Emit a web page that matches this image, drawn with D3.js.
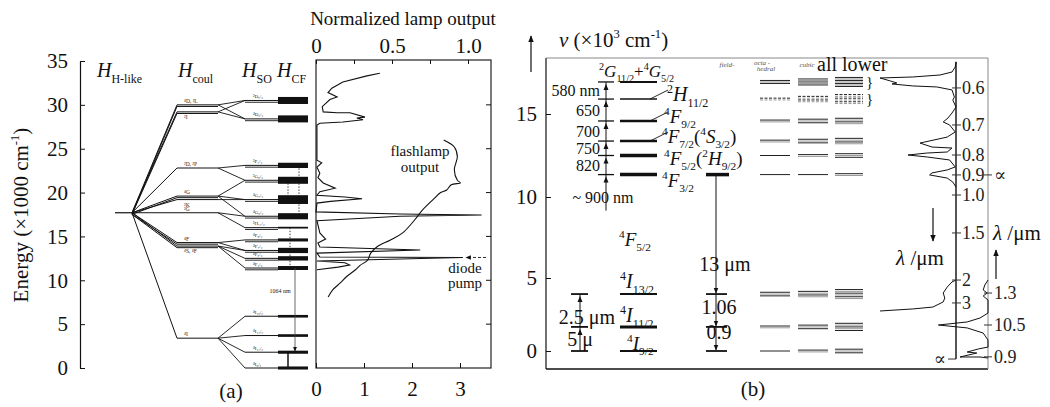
<!DOCTYPE html>
<html>
<head>
<meta charset="utf-8">
<script src="https://cdn.jsdelivr.net/npm/d3@7"></script>
<style>
body { margin: 0; background: #fff; }
svg, svg text { font-family: "Liberation Serif", "Times New Roman", "DejaVu Serif", serif; }
</style>
</head>
<body>
<div id="chart"></div>
<script>
// -------------------- DATA --------------------
// panel (a): energy levels in 1000 cm^-1
const energyTicksA = [0, 5, 10, 15, 20, 25, 30, 35];
const hLikeE = 17.7;
const coulE = [30.0, 29.2, 22.8, 19.6, 19.2, 17.7, 14.3, 13.9, 3.4];
const coulLabels = ["⁴D, ²L", "²I", "²D, ²P", "⁴G", "²K", "²G", "⁴F", "⁴S, ⁴F", "⁴I"];
const soE = [30.5, 28.4, 23.1, 21.4, 19.2, 17.3, 16.0, 14.6, 13.4, 12.5, 11.4, 5.9, 3.7, 1.8, 0];
const soParents = [[0,1],[0,1],[2],[2,3],[3,4],[3,5],[5],[6],[6,7],[7],[7],[8],[8],[8],[8]];
const soLabels = ["²D₅/₂","⁴D₃/₂","²P₁/₂","²G₉/₂","⁴G₇/₂","⁴G₅/₂","²H₁₁/₂","⁴F₉/₂","⁴F₇/₂","⁴F₅/₂","⁴F₃/₂","⁴I₁₅/₂","⁴I₁₃/₂","⁴I₁₁/₂","⁴I₉/₂"];
const cfSpread = [0.8, 0.8, 0.6, 0.8, 1.0, 0.7, 0.2, 0.35, 0.6, 0.5, 0.45, 0.3, 0.3, 0.35, 0.35];
const laserA = { from: 11.4, to: 1.8, label: "1064 nm" };

// lamp panel: absorption (bottom axis) and flashlamp output (top axis)
const absE = [33.6,33.3,32.6,31.9,31.4,30.9,30.6,29.8,29.2,29.1,29.1,28.6,28.5,28.3,28.05,27.9,27.7,23.7,23.4,22.9,22.2,21.7,21.1,20.5,20.1,19.7,19.5,19.3,19.0,18.8,17.8,17.55,17.45,17.3,16.8,15.4,14.7,14.25,13.8,13.45,13.1,12.65,12.6,12.2,12.0,11.75,11.5,11.2];
const absV = [1.33,1.06,0.56,0.33,0.25,0.44,0.29,0.13,0.15,0.44,0.71,1.02,0.85,0.98,0.56,0.08,0.02,0.02,0.12,0.02,0.08,0.04,0.15,0.4,0.08,0.02,0.6,0.96,0.3,0.02,0,1.75,3.45,1.75,0.02,0.08,0.2,0.04,0.08,2.17,0.02,0.08,3.06,0.02,0.6,0.7,0.46,0.02];
const lampE = [26.0,25.2,24.1,22.6,21.4,21.1,20.9,20.3,20.0,19.2,18.0,16.9,15.4,14.6,13.8,13.1,12.3,11.7,11.2,10.4,9.7,8.9,8.1];
const lampV = [0.84,0.91,0.93,0.91,0.93,0.95,0.89,0.86,0.82,0.77,0.70,0.65,0.57,0.49,0.40,0.36,0.34,0.29,0.26,0.20,0.16,0.11,0.08];
const topTicks = [0, 0.25, 0.5, 0.75, 1];
const bottomTicks = [0, 1, 2, 3];
const diodeE = 12.6;

// panel (b)
const bTicks = [0, 5, 10, 15];
const bLevelE = [16.93, 15.9, 14.58, 13.37, 12.5, 11.35, 3.9, 1.65, 0];
const pumpLabels = ["580 nm", "650", "700", "750", "820"];
const starkOcta  = [3, 2, 2, 2, 1, 1, 3, 2, 1];
const starkCubic = [5, 4, 3, 3, 2, 1, 4, 3, 2];
const starkLower = [7, 6, 4, 4, 3, 2, 6, 5, 3];
const spec1E = [18.13,17.83,17.53,17.35,17.23,17.17,16.99,16.87,16.81,16.69,16.63,16.45,16.02,15.84,15.42,15.06,14.76,14.52,14.34,13.92,13.61,13.25,13.01,12.95,12.71,12.65,12.53,12.41,12.23,11.81,11.63,11.45,11.33,11.14,10.9,10.6];
const spec1V = [0,0.01,0.05,0.2,0.54,0.95,0.82,0.74,0.8,0.54,0.24,0.05,0.02,0.04,0,0.05,0.1,0.16,0.08,0.01,0.11,0.45,0.3,0.05,0.11,0.36,0.6,0.36,0.08,0.01,0.11,0.3,0.33,0.11,0.04,0];
const spec1bE = [4.86,4.73,4.38,3.97,3.63,3.36,3.01,2.88,2.74];
const spec1bV = [0,0.05,0.11,0.16,0.14,0.16,0.29,0.54,0.95];
const spec2E = [4.86,4.52,4.18,3.97,3.77,3.49,2.6,2.26,1.99,1.78,1.58,1.23,0.75,0.27,0.14,-0.07,-0.14,-0.41,-0.41,-0.48];
const spec2V = [0,0.04,0.06,0.01,0.06,0,0,0.1,0.26,0.62,0.26,0.06,0,0,0.12,0.26,0.14,0.35,0.1,0];
const lamLabels = ["0.6","0.7","0.8","0.9","1.0","1.5","2","3","∝"];
const lamE = [16.57,14.34,12.53,11.33,10.12,7.78,4.86,3.29,-0.55];
const lam2Labels = ["∝","1.3","10.5","0.9"];
const lam2E = [11.33,3.97,1.78,-0.4];

// -------------------- SETUP --------------------
const W = 1050, H = 407;
const FONT = "'Liberation Serif', 'Times New Roman', 'DejaVu Serif', serif";
const svg = d3.select("#chart").append("svg").attr("width", W).attr("height", H)
  .attr("font-family", FONT);

const defs = svg.append("defs");
defs.append("marker").attr("id", "arr")
  .attr("viewBox", "0 0 10 10").attr("refX", 9).attr("refY", 5)
  .attr("markerWidth", 6).attr("markerHeight", 6).attr("orient", "auto")
  .append("path").attr("d", "M0,1L10,5L0,9z").attr("fill", "#111");

// text with sub/superscripts, parts = [[text, mode]]
function rich(g, x, y, parts, size, anchor) {
  const t = g.append("text").attr("x", x).attr("y", y)
    .attr("font-size", size).attr("text-anchor", anchor || "start").attr("fill", "#111");
  let cur = 0;
  parts.forEach(([s, m]) => {
    const off = m === "sup" ? -0.42 * size : m === "sub" ? 0.28 * size : 0;
    const ts = t.append("tspan").attr("dy", off - cur).text(s);
    if (m === "sup" || m === "sub") ts.attr("font-size", size * 0.6);
    if (m === "i") ts.attr("font-style", "italic");
    cur = off;
  });
  return t;
}

function line(g, x1, y1, x2, y2, w, col) {
  return g.append("line").attr("x1", x1).attr("y1", y1).attr("x2", x2).attr("y2", y2)
    .attr("stroke", col || "#111").attr("stroke-width", w || 1);
}

function styleAxis(g, size) {
  g.attr("font-family", FONT).attr("font-size", size);
  g.selectAll("text").attr("fill", "#111");
  g.selectAll("line").attr("stroke", "#111");
}

// -------------------- PANEL (a) --------------------
const yA = d3.scaleLinear().domain([0, 35]).range([368, 61]);
const sx = d3.scaleLinear().domain([0, 1, 2, 3, 4, 5, 6]).range([115, 132, 177, 218, 245, 278, 308]);
const gA = svg.append("g");

gA.append("g").attr("transform", "translate(80,0)")
  .call(d3.axisLeft(yA).tickValues(energyTicksA).tickSizeInner(-5).tickSizeOuter(0).tickPadding(12))
  .call(g => styleAxis(g, 21))
  .call(g => g.select(".domain").attr("stroke", "#111").attr("stroke-width", 1.2));

rich(gA, 0, 0, [["Energy (×1000 cm"], ["-1", "sup"], [")"]], 21, "middle")
  .attr("x", null).attr("y", null)
  .attr("transform", "translate(28,215) rotate(-90)");

rich(gA, 97, 77, [["H", "i"], ["H-like", "sub"]], 20);
rich(gA, 178, 77, [["H", "i"], ["coul", "sub"]], 20);
rich(gA, 242, 77, [["H", "i"], ["SO", "sub"]], 20);
rich(gA, 277, 77, [["H", "i"], ["CF", "sub"]], 20);

const coulDouble = [true, true, false, true, false, false, true, true, false];
const coulBelow = [false, true, false, false, true, false, false, true, false];

// H-like level
line(gA, sx(0), yA(hLikeE), sx(1), yA(hLikeE), 1.2);

// fan to Coulomb levels
coulE.forEach((e, i) => {
  line(gA, sx(1), yA(hLikeE), sx(2), yA(e), 1);
  line(gA, sx(2), yA(e), sx(3), yA(e), 1);
  if (coulDouble[i]) {
    line(gA, sx(1), yA(hLikeE) + 1.6, sx(2), yA(e) + 1.6, 1);
    line(gA, sx(2), yA(e) + 1.6, sx(3), yA(e) + 1.6, 1);
  }
  gA.append("text").attr("x", sx(2) + 7)
    .attr("y", yA(e) + (coulBelow[i] ? 7 : -2))
    .attr("font-size", 5.5).attr("fill", "#222").text(coulLabels[i]);
});

// spin-orbit levels
soE.forEach((e, j) => {
  soParents[j].forEach(p => {
    line(gA, sx(3), yA(coulE[p]), sx(4), yA(e), 0.9);
  });
  line(gA, sx(4), yA(e), sx(5), yA(e), 1);
  if (j < 11) line(gA, sx(4), yA(e) + 1.8, sx(5), yA(e) + 1.8, 0.9);
  gA.append("text").attr("x", sx(4) + 8).attr("y", yA(e) - 2.5)
    .attr("font-size", 5).attr("fill", "#222").text(soLabels[j]);
});

// crystal-field manifolds
gA.selectAll("rect.cf").data(soE).join("rect")
  .attr("class", "cf")
  .attr("x", sx(5))
  .attr("y", (e, j) => yA(e + cfSpread[j] / 2))
  .attr("width", sx(6) - sx(5))
  .attr("height", (e, j) => yA(e - cfSpread[j] / 2) - yA(e + cfSpread[j] / 2))
  .attr("fill", "#111");

// dotted links inside CF column
line(gA, sx(5) + 21, yA(23.1), sx(5) + 21, yA(17.3), 0.8).attr("stroke-dasharray", "1.5,1.5");
line(gA, sx(5) + 10, yA(21.4), sx(5) + 10, yA(19.2), 0.8).attr("stroke-dasharray", "1.5,1.5");
line(gA, sx(5) + 12, yA(16.0), sx(5) + 12, yA(11.4), 0.8).attr("stroke-dasharray", "1.5,1.5");

// laser transition
line(gA, sx(5) + 17, yA(laserA.from), sx(5) + 17, yA(laserA.to) - 1, 0.8, "#444")
  .attr("marker-end", "url(#arr)");
line(gA, sx(5) + 10, yA(laserA.to), sx(5) + 10, yA(0), 1.5);
gA.append("text").attr("x", sx(5) + 2).attr("y", yA(8.5)).attr("font-size", 6)
  .attr("text-anchor", "middle").attr("fill", "#222").text(laserA.label);

gA.append("text").attr("x", 231).attr("y", 398).attr("font-size", 21)
  .attr("text-anchor", "middle").attr("fill", "#111").text("(a)");

// -------------------- LAMP PANEL --------------------
const xTop = d3.scaleLinear().domain([0, 1]).range([316, 468]);
const xBot = d3.scaleLinear().domain([0, 3]).range([316, 460]);
const gL = svg.append("g");

gL.append("rect").attr("x", 316).attr("y", 60).attr("width", 175).attr("height", 308)
  .attr("fill", "none").attr("stroke", "#222").attr("stroke-width", 1.2);

const topFmt = { 0: "0", 0.5: "0.5", 1: "1.0" };
gL.append("g").attr("transform", "translate(0,60)")
  .call(d3.axisTop(xTop).tickValues(topTicks).tickSizeInner(-4).tickSizeOuter(0).tickPadding(7)
    .tickFormat(d => topFmt[d] || ""))
  .call(g => g.select(".domain").remove())
  .call(g => styleAxis(g, 21));

gL.append("g").attr("transform", "translate(0,368)")
  .call(d3.axisBottom(xBot).tickValues(bottomTicks).tickSizeInner(-5).tickSizeOuter(0).tickPadding(13)
    .tickFormat(d3.format("d")))
  .call(g => g.select(".domain").remove())
  .call(g => styleAxis(g, 21));

energyTicksA.filter(e => e > 0 && e < 35).forEach(e => line(gL, 491, yA(e), 486, yA(e), 1));

gL.append("text").attr("x", 403).attr("y", 25).attr("font-size", 19)
  .attr("text-anchor", "middle").attr("fill", "#111").text("Normalized lamp output");

const absLine = d3.line().x(d => xBot(d[1])).y(d => yA(d[0]));
gL.append("path").datum(d3.zip(absE, absV))
  .attr("d", absLine).attr("fill", "none").attr("stroke", "#111").attr("stroke-width", 1.1);

const lampLine = d3.line().x(d => xTop(d[1])).y(d => yA(d[0])).curve(d3.curveCatmullRom);
gL.append("path").datum(d3.zip(lampE, lampV))
  .attr("d", lampLine).attr("fill", "none").attr("stroke", "#111").attr("stroke-width", 1.1);

gL.append("text").attr("x", 420).attr("y", 156).attr("font-size", 15)
  .attr("text-anchor", "middle").attr("fill", "#111").text("flashlamp");
gL.append("text").attr("x", 420).attr("y", 172).attr("font-size", 15)
  .attr("text-anchor", "middle").attr("fill", "#111").text("output");
gL.append("text").attr("x", 465).attr("y", 273).attr("font-size", 15)
  .attr("text-anchor", "middle").attr("fill", "#111").text("diode");
gL.append("text").attr("x", 465).attr("y", 288).attr("font-size", 15)
  .attr("text-anchor", "middle").attr("fill", "#111").text("pump");
line(gL, 486, yA(diodeE), 466, yA(diodeE), 0.9).attr("stroke-dasharray", "3,2")
  .attr("marker-end", "url(#arr)");

// -------------------- PANEL (b) --------------------
const yB = d3.scaleLinear().domain([0, 5, 10, 15]).range([351, 278, 197, 114]);
const gB = svg.append("g");

gB.append("g").attr("transform", "translate(546,0)")
  .call(d3.axisLeft(yB).tickValues(bTicks).tickSizeInner(-5).tickSizeOuter(0).tickPadding(9))
  .call(g => g.select(".domain").remove())
  .call(g => styleAxis(g, 21));

line(gB, 546, 58, 546, 369, 1.2);
line(gB, 546, 369, 988, 369, 1.6);
line(gB, 546, 58, 988, 58, 1, "#888");
line(gB, 988, 58, 988, 369, 1, "#888");

line(gB, 531, 72, 531, 36, 1.2).attr("marker-end", "url(#arr)");
rich(gB, 559, 47, [["ν", "i"], [" (×10"], ["3", "sup"], [" cm"], ["-1", "sup"], [")"]], 21);

// main manifolds
const barW = [2, 1.5, 2.5, 2.5, 3.5, 3.5, 2, 3, 2];
bLevelE.forEach((e, i) => line(gB, 620, yB(e), 657, yB(e), barW[i]));

// pump wavelengths column
line(gB, 606, yB(bLevelE[0]), 606, yB(bLevelE[5]) + 36, 1);
bLevelE.slice(0, 6).forEach(e => {
  line(gB, 598, yB(e), 614, yB(e), 1.3);
  gB.append("path")
    .attr("d", `M606,${yB(e) + 2}L603.5,${yB(e) + 8}L608.5,${yB(e) + 8}Z`).attr("fill", "#111");
});
pumpLabels.forEach((s, i) => {
  const ym = (yB(bLevelE[i]) + yB(bLevelE[i + 1])) / 2;
  gB.append("text").attr("x", 600).attr("y", ym + 5.5).attr("font-size", 16)
    .attr("text-anchor", "end").attr("fill", "#111").text(s);
});
gB.append("text").attr("x", 603).attr("y", yB(bLevelE[5]) + 28).attr("font-size", 16)
  .attr("text-anchor", "middle").attr("fill", "#111").text("~ 900 nm");

// level labels
rich(gB, 599, 77, [["2", "sup"], ["G", "i"], ["11/2", "sub"], ["+"], ["4", "sup"], ["G", "i"], ["5/2", "sub"]], 17);
rich(gB, 667, yB(bLevelE[1]) + 2, [["2", "sup"], ["H", "i"], ["11/2", "sub"]], 20);
rich(gB, 664, yB(bLevelE[2]) + 2, [["4", "sup"], ["F", "i"], ["9/2", "sub"]], 19);
rich(gB, 662, yB(bLevelE[3]) + 2, [["4", "sup"], ["F", "i"], ["7/2", "sub"], ["("], ["4", "sup"], ["S", "i"], ["3/2", "sub"], [")"]], 19);
rich(gB, 664, yB(bLevelE[4]) + 9, [["4", "sup"], ["F", "i"], ["5/2", "sub"], ["("], ["2", "sup"], ["H", "i"], ["9/2", "sub"], [")"]], 19);
rich(gB, 662, yB(bLevelE[5]) + 12, [["4", "sup"], ["F", "i"], ["3/2", "sub"]], 19);
[1, 2, 3].forEach(i => line(gB, 650, yB(bLevelE[i]), 668, yB(bLevelE[i]) - 9, 0.9));
rich(gB, 619, 246, [["4", "sup"], ["F", "i"], ["5/2", "sub"]], 19);
rich(gB, 620, yB(bLevelE[6]) - 6, [["4", "sup"], ["I", "i"], ["13/2", "sub"]], 20);
rich(gB, 620, yB(bLevelE[7]) - 5, [["4", "sup"], ["I", "i"], ["11/2", "sub"]], 20);
rich(gB, 627, yB(bLevelE[8]) - 1, [["4", "sup"], ["I", "i"], ["9/2", "sub"]], 19);

// lower-left mid-IR transitions
[6, 7, 8].forEach(i => line(gB, 571, yB(bLevelE[i]), 588, yB(bLevelE[i]), 1.8));
line(gB, 580, yB(bLevelE[6]), 580, yB(bLevelE[8]), 1);
[6, 7].forEach(i => gB.append("path")
  .attr("d", `M580,${yB(bLevelE[i]) + 2}L577.5,${yB(bLevelE[i]) + 8}L582.5,${yB(bLevelE[i]) + 8}Z`)
  .attr("fill", "#111"));
gB.append("text").attr("x", 587).attr("y", 324).attr("font-size", 20)
  .attr("text-anchor", "middle").attr("fill", "#111").text("2.5 μm");
gB.append("text").attr("x", 580).attr("y", 346).attr("font-size", 20)
  .attr("text-anchor", "middle").attr("fill", "#111").text("5 μ");

// 4F3/2 emission column
line(gB, 706, yB(bLevelE[5]), 729, yB(bLevelE[5]), 3.5);
[6, 7, 8].forEach(i => line(gB, 706, yB(bLevelE[i]), 727, yB(bLevelE[i]), 1.8));
[[5, 6], [6, 7], [7, 8]].forEach(([a, b]) =>
  line(gB, 716, yB(bLevelE[a]), 716, yB(bLevelE[b]) - 1, 1).attr("marker-end", "url(#arr)"));
gB.append("text").attr("x", 725).attr("y", 271).attr("font-size", 20)
  .attr("text-anchor", "middle").attr("fill", "#111").text("13 μm");
gB.append("text").attr("x", 719).attr("y", 314).attr("font-size", 20)
  .attr("text-anchor", "middle").attr("fill", "#111").text("1.06");
gB.append("text").attr("x", 719).attr("y", 339).attr("font-size", 20)
  .attr("text-anchor", "middle").attr("fill", "#111").text("0.9");

// site-symmetry columns
const colX = [[760, 790], [798, 828], [835, 863]];
[starkOcta, starkCubic, starkLower].forEach((counts, c) => {
  counts.forEach((n, g) => {
    const gap = g === 0 ? 1.5 : 1.8;
    for (let k = 0; k < n; k++) {
      const y = yB(bLevelE[g]) + (k - (n - 1) / 2) * gap;
      const l = line(gB, colX[c][0], y, colX[c][1], y, 1, k % 2 ? "#999" : "#222");
      if (g === 1) l.attr("stroke-dasharray", "3,1.5");
    }
  });
});
gB.append("text").attr("x", 727).attr("y", 67).attr("font-size", 7).attr("font-style", "italic")
  .attr("text-anchor", "middle").attr("fill", "#555").text("field-");
gB.append("text").attr("x", 762).attr("y", 65).attr("font-size", 7).attr("font-style", "italic")
  .attr("text-anchor", "middle").attr("fill", "#555").text("octa -");
gB.append("text").attr("x", 766).attr("y", 71).attr("font-size", 7).attr("font-style", "italic")
  .attr("text-anchor", "middle").attr("fill", "#555").text("hedral");
gB.append("text").attr("x", 807).attr("y", 67).attr("font-size", 7).attr("font-style", "italic")
  .attr("text-anchor", "middle").attr("fill", "#555").text("cubic");
gB.append("text").attr("x", 817).attr("y", 71).attr("font-size", 20)
  .attr("fill", "#111").text("all lower");
[0, 1].forEach(i => gB.append("text").attr("x", 866).attr("y", yB(bLevelE[i]) + 5)
  .attr("font-size", 15).attr("fill", "#111").text("}"));

// spectra and wavelength scales
const specX = d3.scaleLinear().domain([0, 1]).range([0, -80]);
line(gB, 956, yB(18.15), 956, yB(-0.55), 2, "#555");
const specLine = x0 => d3.line().x(d => x0 + specX(d[1])).y(d => yB(d[0]));
[[spec1E, spec1V, 956], [spec1bE, spec1bV, 956], [spec2E, spec2V, 988]].forEach(([e, v, x0]) =>
  gB.append("path").datum(d3.zip(e, v)).attr("d", specLine(x0))
    .attr("fill", "none").attr("stroke", "#111").attr("stroke-width", 1));

lamLabels.forEach((s, i) => {
  const y = yB(lamE[i]);
  const inf = s === "∝";
  line(gB, inf ? 948 : 952, y, inf ? 956 : 961, y, 1, "#333");
  gB.append("text").attr("x", inf ? 946 : 962).attr("y", y).attr("dy", "0.35em")
    .attr("font-size", 18).attr("text-anchor", inf ? "end" : "start").attr("fill", "#222").text(s);
});
lam2Labels.forEach((s, i) => {
  const y = yB(lam2E[i]);
  line(gB, 984, y, 992, y, 1, "#333");
  gB.append("text").attr("x", 994).attr("y", y).attr("dy", "0.35em")
    .attr("font-size", 18).attr("fill", "#222").text(s);
});

line(gB, 933, 208, 933, 241, 1.2).attr("marker-end", "url(#arr)");
rich(gB, 920, 265, [["λ", "i"], [" /μm"]], 21, "middle");
line(gB, 996, 279, 996, 250, 1.2).attr("marker-end", "url(#arr)");
rich(gB, 993, 240, [["λ", "i"], [" /μm"]], 21);

gB.append("text").attr("x", 753).attr("y", 396).attr("font-size", 21)
  .attr("text-anchor", "middle").attr("fill", "#111").text("(b)");
</script>
</body>
</html>
